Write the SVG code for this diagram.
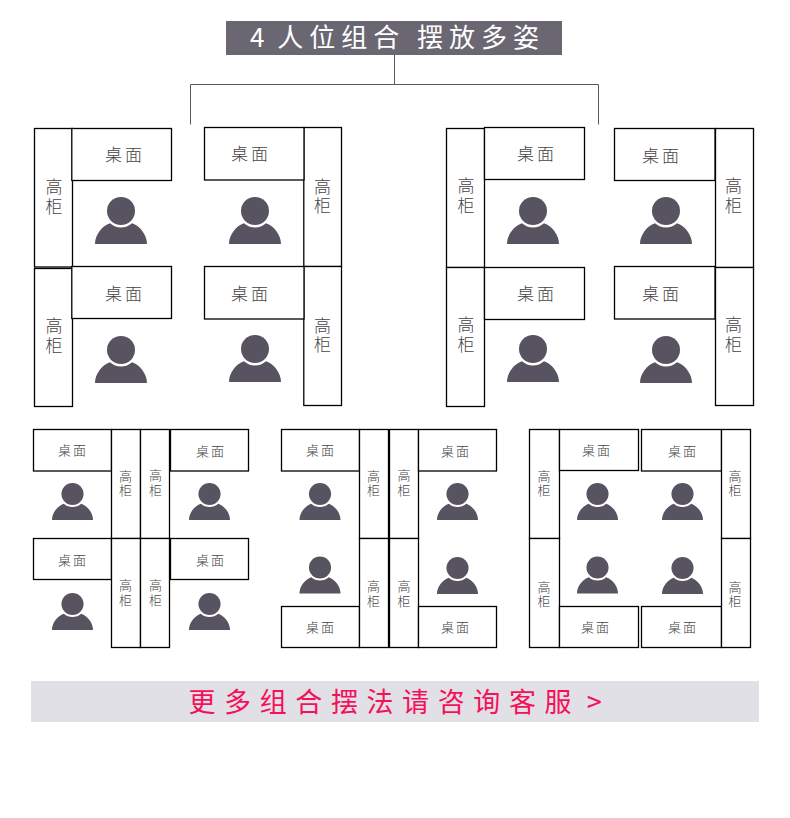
<svg xmlns="http://www.w3.org/2000/svg" xmlns:xlink="http://www.w3.org/1999/xlink" width="790" height="818" viewBox="0 0 790 818">
<style>
text{font-family:"Noto Sans CJK SC","Noto Sans",sans-serif;font-weight:300;text-anchor:middle}
.b{fill:#fff;stroke:#000;stroke-width:1.3}
.d{font-size:17px;letter-spacing:3px;fill:#444}
.c{font-size:17px;fill:#444}
.ds{font-size:13px;letter-spacing:2px;fill:#444}
.cs{font-size:13px;fill:#444}
.h{font-weight:400;text-anchor:start}
.l{fill:none;stroke:#5a5666;stroke-width:1}
</style>
<defs>
<g id="p"><path d="M-26 33C-26 24-19 15-11 12.300A16.500 16.500 0 0 0 11 12.300C19 15 26 24 26 33Z" fill="#575360"/><circle r="14" fill="#575360"/></g>
<g id="ps"><use xlink:href="#p" href="#p" transform="scale(.79)"/></g>
</defs>
<rect width="790" height="818" fill="#fff"/>
<g id="title"><rect x="226" y="21" width="336" height="34" fill="#6a6773"/><text class="h" x="250" y="47" fill="#fff" letter-spacing="6" xml:space="preserve" style="font-size:26px">4<tspan dx="-5"> 人位组合 摆放多姿</tspan></text></g>
<g id="connectors"><path class="l" d="M394.500 55V84.500M190.500 124.500V84.500H598.500V124.500"/></g>

<g id="a1">
<rect class="b" x="34.500" y="128.500" width="38" height="138.500"/><rect class="b" x="71.800" y="128.500" width="99.700" height="52"/><text class="d" x="125" y="161">桌面</text><text class="c"><tspan x="54" y="193">高</tspan><tspan x="54" y="213">柜</tspan></text><use xlink:href="#p" href="#p" x="121" y="211"/>
<rect class="b" x="34.500" y="268.500" width="38" height="138"/><rect class="b" x="71.800" y="266.500" width="99.700" height="52"/><text class="d" x="125" y="300">桌面</text><text class="c"><tspan x="54" y="332">高</tspan><tspan x="54" y="352">柜</tspan></text><use xlink:href="#p" href="#p" x="121" y="350"/>
</g>
<g id="a2">
<rect class="b" x="303.800" y="127.500" width="37.700" height="139"/><rect class="b" x="204.500" y="127.500" width="99.500" height="52.500"/><text class="d" x="251" y="160">桌面</text><text class="c"><tspan x="322.500" y="193">高</tspan><tspan x="322.500" y="212">柜</tspan></text><use xlink:href="#p" href="#p" x="255" y="211"/>
<rect class="b" x="303.800" y="266.500" width="37.700" height="139"/><rect class="b" x="204.500" y="266.500" width="99.500" height="52.500"/><text class="d" x="251" y="300">桌面</text><text class="c"><tspan x="322.500" y="332">高</tspan><tspan x="322.500" y="351">柜</tspan></text><use xlink:href="#p" href="#p" x="255" y="349"/>
</g>
<g id="a3">
<rect class="b" x="446.500" y="128.500" width="38" height="139"/><rect class="b" x="484.500" y="127.500" width="100" height="52"/><text class="d" x="537" y="160">桌面</text><text class="c"><tspan x="466" y="192">高</tspan><tspan x="466" y="212">柜</tspan></text><use xlink:href="#p" href="#p" x="533" y="211"/>
<rect class="b" x="446.500" y="267.500" width="38" height="139"/><rect class="b" x="484.500" y="267.500" width="100" height="52"/><text class="d" x="537" y="300">桌面</text><text class="c"><tspan x="466" y="331">高</tspan><tspan x="466" y="351">柜</tspan></text><use xlink:href="#p" href="#p" x="533" y="349"/>
</g>
<g id="a4">
<rect class="b" x="715.500" y="128.500" width="38" height="139"/><rect class="b" x="614.500" y="128.500" width="100.500" height="52"/><text class="d" x="662" y="162">桌面</text><text class="c"><tspan x="733.500" y="192">高</tspan><tspan x="733.500" y="212">柜</tspan></text><use xlink:href="#p" href="#p" x="666" y="211"/>
<rect class="b" x="715.500" y="267.500" width="38" height="138"/><rect class="b" x="614.500" y="266.500" width="100.500" height="52.500"/><text class="d" x="662" y="300">桌面</text><text class="c"><tspan x="733.500" y="331">高</tspan><tspan x="733.500" y="351">柜</tspan></text><use xlink:href="#p" href="#p" x="666" y="350"/>
</g>

<g id="b1">
<rect class="b" x="33.500" y="429.500" width="78" height="41.500"/><rect class="b" x="111.500" y="429.500" width="29" height="109"/><rect class="b" x="140.500" y="429.500" width="29" height="109"/><rect class="b" x="170.500" y="429.500" width="78" height="41.500"/>
<text class="ds" x="73" y="455">桌面</text><text class="ds" x="211" y="456">桌面</text><text class="cs"><tspan x="125.500" y="481">高</tspan><tspan x="125.500" y="495">柜</tspan></text><text class="cs"><tspan x="155.500" y="480">高</tspan><tspan x="155.500" y="495">柜</tspan></text>
<use xlink:href="#ps" href="#ps" x="72.500" y="494"/><use xlink:href="#ps" href="#ps" x="209.500" y="494"/>
<rect class="b" x="33.500" y="538.500" width="78" height="41"/><rect class="b" x="111.500" y="538.500" width="29" height="109"/><rect class="b" x="140.500" y="538.500" width="29" height="109"/><rect class="b" x="170.500" y="538.500" width="78" height="41"/>
<text class="ds" x="73" y="565">桌面</text><text class="ds" x="211" y="565">桌面</text><text class="cs"><tspan x="125.500" y="590">高</tspan><tspan x="125.500" y="605">柜</tspan></text><text class="cs"><tspan x="155.500" y="590">高</tspan><tspan x="155.500" y="605">柜</tspan></text>
<use xlink:href="#ps" href="#ps" x="72.500" y="604"/><use xlink:href="#ps" href="#ps" x="209.500" y="604"/>
</g>
<g id="b2">
<rect class="b" x="281.500" y="429.500" width="78" height="41.500"/><rect class="b" x="359.500" y="429.500" width="29" height="109"/><rect class="b" x="389.500" y="429.500" width="29" height="109"/><rect class="b" x="418.500" y="429.500" width="78" height="41.500"/>
<text class="ds" x="321" y="455">桌面</text><text class="ds" x="456" y="456">桌面</text><text class="cs"><tspan x="373.500" y="481">高</tspan><tspan x="373.500" y="495">柜</tspan></text><text class="cs"><tspan x="404" y="480">高</tspan><tspan x="404" y="495">柜</tspan></text>
<use xlink:href="#ps" href="#ps" x="320" y="494"/><use xlink:href="#ps" href="#ps" x="457.500" y="494"/>
<rect class="b" x="281.500" y="606.500" width="78" height="41"/><rect class="b" x="359.500" y="538.500" width="29" height="109"/><rect class="b" x="389.500" y="538.500" width="29" height="109"/><rect class="b" x="418.500" y="606.500" width="78" height="41"/>
<text class="ds" x="321" y="632">桌面</text><text class="ds" x="456" y="632">桌面</text><text class="cs"><tspan x="373.500" y="591">高</tspan><tspan x="373.500" y="606">柜</tspan></text><text class="cs"><tspan x="404" y="591">高</tspan><tspan x="404" y="606">柜</tspan></text>
<use xlink:href="#ps" href="#ps" x="320" y="567.500"/><use xlink:href="#ps" href="#ps" x="457.500" y="568"/>
</g>
<g id="b3">
<rect class="b" x="529.500" y="429.500" width="30" height="109"/><rect class="b" x="559.500" y="429.500" width="79" height="41"/><rect class="b" x="641.500" y="429.500" width="80" height="41.500"/><rect class="b" x="721.500" y="429.500" width="29" height="109"/>
<text class="ds" x="597" y="455">桌面</text><text class="ds" x="683" y="456">桌面</text><text class="cs"><tspan x="544" y="481">高</tspan><tspan x="544" y="495">柜</tspan></text><text class="cs"><tspan x="735" y="481">高</tspan><tspan x="735" y="495">柜</tspan></text>
<use xlink:href="#ps" href="#ps" x="597.500" y="494"/><use xlink:href="#ps" href="#ps" x="682.500" y="494"/>
<rect class="b" x="529.500" y="538.500" width="30" height="109"/><rect class="b" x="559.500" y="606.500" width="79" height="41"/><rect class="b" x="641.500" y="606.500" width="80" height="41"/><rect class="b" x="721.500" y="538.500" width="29" height="109"/>
<text class="ds" x="596" y="632">桌面</text><text class="ds" x="683" y="632">桌面</text><text class="cs"><tspan x="544" y="592">高</tspan><tspan x="544" y="606">柜</tspan></text><text class="cs"><tspan x="735" y="592">高</tspan><tspan x="735" y="606">柜</tspan></text>
<use xlink:href="#ps" href="#ps" x="597.500" y="567.500"/><use xlink:href="#ps" href="#ps" x="682.500" y="568"/>
</g>
<g id="banner"><rect x="31" y="681" width="728" height="41" fill="#e0e0e6"/><text class="h" x="188.500" y="712" letter-spacing="8.600" fill="#f5105a" xml:space="preserve" style="font-size:27px">更多组合摆法请咨询客服<tspan dx="-8"> &gt;</tspan></text></g>
</svg>
